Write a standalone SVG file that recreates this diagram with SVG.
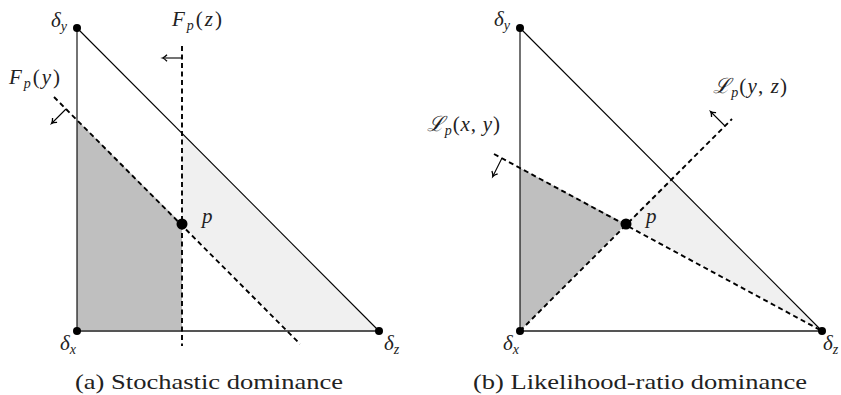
<svg xmlns="http://www.w3.org/2000/svg" width="841" height="395" viewBox="0 0 841 395">
<style>
.edge{stroke:#000;stroke-width:1.1;fill:none}
.base{stroke:#555;stroke-width:2;fill:none}
.dash{stroke:#000;stroke-width:1.9;stroke-dasharray:5 3.5;fill:none}
.arr{stroke:#000;stroke-width:1.1;fill:none;marker-end:url(#ah)}
.dark{fill:#bfbfbf}
.light{fill:#f0f0f0}
.pt{fill:#000}
.lbl{font-family:"Liberation Serif","Times New Roman",serif;font-style:italic;font-size:21px;fill:#222}
.up{font-style:normal}
.sub{font-size:14px}
.cap{font-family:"Liberation Serif","Times New Roman",serif;font-size:21px;fill:#222}
</style>
<defs>
<marker id="ah" markerWidth="10" markerHeight="10" refX="0" refY="0" viewBox="-5 -5 10 10" orient="auto" markerUnits="userSpaceOnUse">
<path d="M-4,-3.2 Q-1.5,-0.6 0.5,0 Q-1.5,0.6 -4,3.2" stroke="#000" stroke-width="1.3" fill="none"/>
</marker>
</defs>

<g id="panel-a">
<polygon class="dark" points="77,331 77,120 182,224 182,331"/>
<polygon class="light" points="182,133 379,331 288,331 182,224"/>
<line class="edge" x1="77" y1="28" x2="77" y2="331"/>
<line class="edge" x1="77" y1="28" x2="379" y2="331"/>
<line class="base" x1="77" y1="331" x2="379" y2="331"/>
<g id="connectors-a">
<line class="dash" x1="182" y1="46" x2="182" y2="346"/>
<line class="dash" x1="54" y1="97" x2="300" y2="344"/>
<line class="arr" x1="182" y1="58" x2="163" y2="58"/>
<line class="arr" x1="66" y1="109" x2="52" y2="123"/>
</g>
<g id="a-dy"><circle class="pt" cx="77" cy="28" r="4"/><text class="lbl" x="51" y="27">δ<tspan class="sub" dy="4">y</tspan></text></g>
<g id="a-dx"><circle class="pt" cx="77" cy="331" r="4"/><text class="lbl" x="60" y="350">δ<tspan class="sub" dy="4">x</tspan></text></g>
<g id="a-dz"><circle class="pt" cx="379" cy="331" r="4"/><text class="lbl" x="384" y="350">δ<tspan class="sub" dy="4">z</tspan></text></g>
<g id="a-p"><circle class="pt" cx="182" cy="224" r="5.5"/><text class="lbl" x="202" y="223">p</text></g>
<text class="lbl" x="172" y="26" textLength="50">F<tspan class="sub" dy="4">p</tspan><tspan dy="-4" class="up">(</tspan>z<tspan class="up">)</tspan></text>
<text class="lbl" x="9" y="84" textLength="51">F<tspan class="sub" dy="4">p</tspan><tspan dy="-4" class="up">(</tspan>y<tspan class="up">)</tspan></text>
<text class="cap" x="209" y="389" text-anchor="middle" textLength="268" lengthAdjust="spacingAndGlyphs">(a) Stochastic dominance</text>
</g>

<g id="panel-b">
<polygon class="dark" points="520,331 520,168 626,224"/>
<polygon class="light" points="626,224 671.5,179.5 822,331"/>
<line class="edge" x1="520" y1="28" x2="520" y2="331"/>
<line class="edge" x1="520" y1="28" x2="822" y2="331"/>
<line class="base" x1="520" y1="331" x2="822" y2="331"/>
<g id="connectors-b">
<line class="dash" x1="494" y1="154" x2="822" y2="331"/>
<line class="dash" x1="520" y1="331" x2="732" y2="119"/>
<line class="arr" x1="502" y1="158" x2="493" y2="176"/>
<line class="arr" x1="725" y1="126" x2="711" y2="112"/>
</g>
<g id="b-dy"><circle class="pt" cx="520" cy="28" r="4"/><text class="lbl" x="494" y="26">δ<tspan class="sub" dy="4">y</tspan></text></g>
<g id="b-dx"><circle class="pt" cx="520" cy="331" r="4"/><text class="lbl" x="503" y="350">δ<tspan class="sub" dy="4">x</tspan></text></g>
<g id="b-dz"><circle class="pt" cx="822" cy="331" r="4"/><text class="lbl" x="823" y="350">δ<tspan class="sub" dy="4">z</tspan></text></g>
<g id="b-p"><circle class="pt" cx="626" cy="224" r="5.5"/><text class="lbl" x="646" y="223">p</text></g>
<text class="lbl" x="713" y="93" textLength="74">ℒ<tspan class="sub" dy="4">p</tspan><tspan dy="-4" class="up">(</tspan>y<tspan class="up">, </tspan>z<tspan class="up">)</tspan></text>
<text class="lbl" x="427" y="131" textLength="73">ℒ<tspan class="sub" dy="4">p</tspan><tspan dy="-4" class="up">(</tspan>x<tspan class="up">, </tspan>y<tspan class="up">)</tspan></text>
<text class="cap" x="640" y="389" text-anchor="middle" textLength="334" lengthAdjust="spacingAndGlyphs">(b) Likelihood-ratio dominance</text>
</g>
</svg>
